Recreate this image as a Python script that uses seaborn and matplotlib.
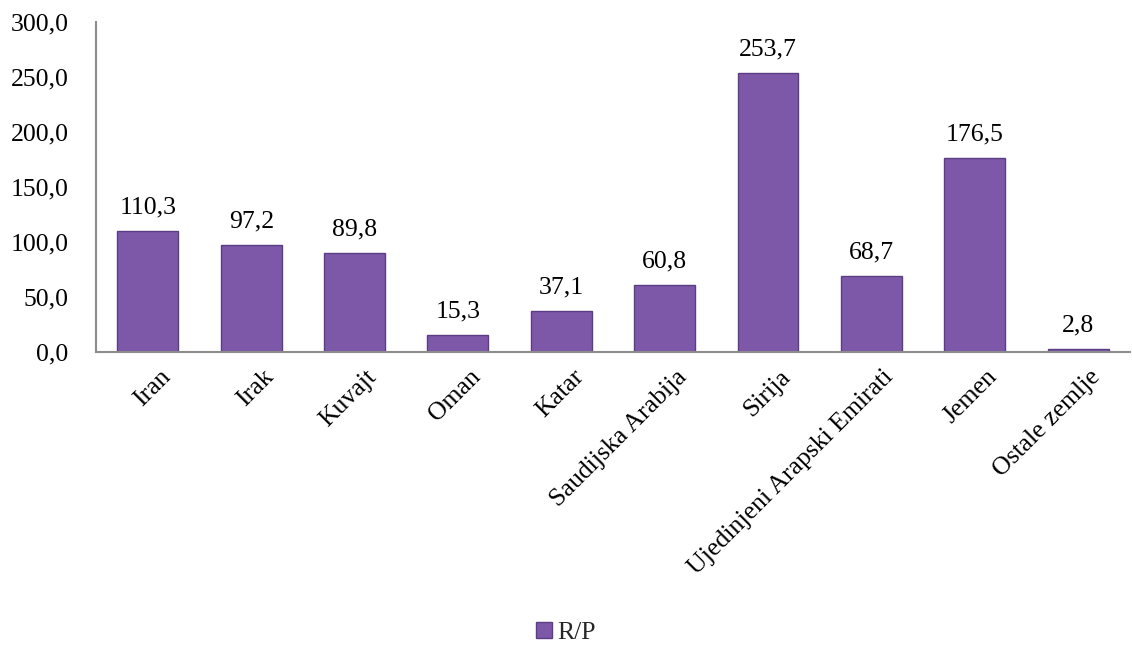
import matplotlib
matplotlib.use("Agg")
import matplotlib.pyplot as plt
import matplotlib.transforms as mtransforms
import seaborn as sns
import pandas as pd
from matplotlib.patches import Patch

categories = ["Iran", "Irak", "Kuvajt", "Oman", "Katar", "Saudijska Arabija",
              "Sirija", "Ujedinjeni Arapski Emirati", "Jemen", "Ostale zemlje"]
values = [110.3, 97.2, 89.8, 15.3, 37.1, 60.8, 253.7, 68.7, 176.5, 2.8]
series_name = "R/P"
yticks = [0, 50, 100, 150, 200, 250, 300]

sns.set_theme(style="white")
plt.rcParams['font.family'] = ['Liberation Serif', 'DejaVu Serif']
FS = 18.5

df = pd.DataFrame({"cat": categories, "val": values})

fig = plt.figure(figsize=(11.32, 6.5), dpi=100)
ax = fig.add_axes([0.085, 0.4585, 0.913, 0.508])

bar_color = "#7D58A8"
sns.barplot(data=df, x="cat", y="val", color=bar_color, width=0.59,
            edgecolor="#5B3D85", linewidth=1.0, saturation=1, ax=ax)

for p, v in zip(ax.patches, values):
    ax.annotate(f"{v:.1f}".replace(".", ","),
                (p.get_x() + p.get_width() / 2, p.get_height()),
                xytext=(0, 9), textcoords="offset points",
                ha="center", va="bottom", fontsize=FS, color="black")

ax.set_ylim(0, 300)
ax.set_yticks(yticks)
ax.set_yticklabels([f"{t:.1f}".replace(".", ",") for t in yticks], fontsize=FS)
ax.set_xlim(-0.5, len(categories) - 0.5)
ax.set_xticks(range(len(categories)))
ax.set_xticklabels(categories, rotation=45, ha="right", rotation_mode="anchor", fontsize=FS)
ax.tick_params(axis="y", length=0, pad=20, colors="black")
ax.tick_params(axis="x", length=0, pad=10, colors="black")
offset = mtransforms.ScaledTranslation(8 / 72, 0, fig.dpi_scale_trans)
for lbl in ax.get_xticklabels():
    lbl.set_transform(lbl.get_transform() + offset)
ax.set_xlabel("")
ax.set_ylabel("")

for s in ["top", "right"]:
    ax.spines[s].set_visible(False)
for s in ["left", "bottom"]:
    ax.spines[s].set_color("#8C8C8C")
    ax.spines[s].set_linewidth(1.5)

fig.legend(handles=[Patch(facecolor=bar_color, edgecolor="#5B3D85", label=series_name)],
           loc="center", bbox_to_anchor=(0.5, 0.026), frameon=False, fontsize=FS,
           handlelength=0.6, handleheight=0.6, handletextpad=0.2)

fig.savefig("out.png", dpi=100, facecolor="white")
